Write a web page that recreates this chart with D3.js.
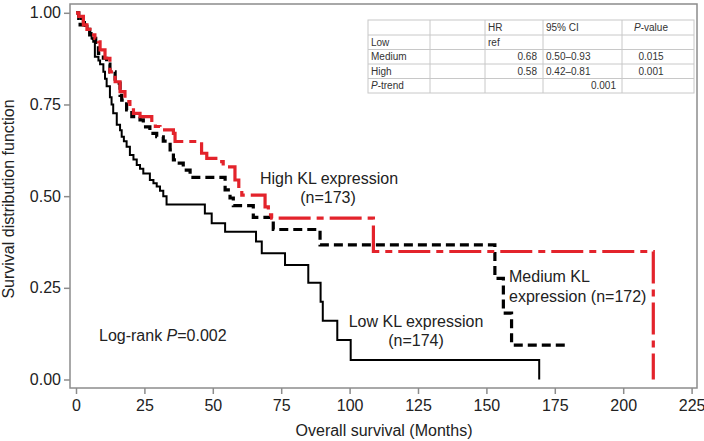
<!DOCTYPE html>
<html><head><meta charset="utf-8">
<script src="https://cdn.jsdelivr.net/npm/d3@7"></script>
<style>
html,body{margin:0;padding:0;background:#fff;}
svg text{font-family:"Liberation Sans",Arial,Helvetica,sans-serif;}
</style></head>
<body><svg id="chart" width="704" height="441"></svg>
<script>
// ---------- data ----------
const lowTimes = [0, 0.8, 1.6, 2.5, 3.3, 4.2, 5, 5.7, 6.3, 6.9, 8.2, 8.8, 10, 10.6, 11.2, 12.4, 13, 13.6, 14.9, 16.1, 16.7, 17.5, 18.5, 19.7, 21, 22.2, 23.4, 24.6, 27, 28.3, 29.5, 30.7, 31.9, 33.1, 47.1, 49.6, 54.5, 65.8, 67.9, 76.4, 84.9, 89.4, 90.2, 95.5, 100.4, 169.3];
const lowSurv  = [1.0, 0.99, 0.983, 0.975, 0.965, 0.955, 0.945, 0.93, 0.921, 0.88, 0.87, 0.86, 0.839, 0.82, 0.80, 0.77, 0.75, 0.726, 0.695, 0.68, 0.662, 0.65, 0.635, 0.612, 0.60, 0.585, 0.575, 0.562, 0.544, 0.535, 0.526, 0.515, 0.50, 0.477, 0.453, 0.426, 0.403, 0.376, 0.344, 0.312, 0.264, 0.212, 0.160, 0.108, 0.053, 0.0];

const medTimes = [0, 1, 1.5, 3.3, 5, 6.3, 7.2, 8.2, 10, 11.2, 12.4, 14.3, 16.1, 16.7, 18.5, 20.4, 23.4, 24.6, 27, 29.5, 31.9, 34.4, 35.6, 36.8, 39.2, 41.7, 54.5, 56.3, 57.5, 64.8, 72.1, 89.2, 153.1, 156.2, 159.2, 178.7];
const medSurv  = [1.0, 0.985, 0.967, 0.955, 0.94, 0.93, 0.91, 0.889, 0.876, 0.86, 0.839, 0.808, 0.775, 0.762, 0.735, 0.717, 0.708, 0.689, 0.671, 0.662, 0.650, 0.626, 0.599, 0.59, 0.571, 0.551, 0.517, 0.495, 0.474, 0.442, 0.409, 0.367, 0.276, 0.181, 0.094, 0.094];

const highTimes = [0, 1, 2.7, 4, 5.1, 6.9, 8.2, 8.8, 10.6, 12.4, 14.3, 16.1, 17.9, 19.7, 21, 23.4, 27.7, 29, 30.7, 35.6, 36.2, 45.9, 47.8, 52.6, 53.8, 58.1, 59.5, 60.6, 69.1, 70.3, 71.5, 108.7, 211];
const highSurv  = [1.0, 0.99, 0.967, 0.955, 0.94, 0.93, 0.921, 0.899, 0.876, 0.839, 0.812, 0.785, 0.758, 0.74, 0.726, 0.717, 0.699, 0.69, 0.681, 0.671, 0.649, 0.617, 0.603, 0.594, 0.58, 0.544, 0.52, 0.503, 0.471, 0.449, 0.44, 0.349, 0.0];

const xTicks = [0, 25, 50, 75, 100, 125, 150, 175, 200, 225];
const yTicks = [0, 0.25, 0.5, 0.75, 1.0];

const tableHeader = ["", "", "HR", "95% CI", "P-value"];
const tableRows = [
  ["Low", "", "ref", "", ""],
  ["Medium", "", "0.68", "0.50–0.93", "0.015"],
  ["High", "", "0.58", "0.42–0.81", "0.001"],
  ["P-trend", "", "", "0.001", ""]
];

// ---------- layout ----------
const svg = d3.select("#chart");
const x = d3.scaleLinear().domain([0, 225]).range([76, 691.6]);
const y = d3.scaleLinear().domain([0, 1]).range([379.5, 12.8]);
const frame = {l: 70, t: 4, r: 697, b: 388};
const axisCol = "#8c8c8c";

// frame
svg.append("rect").attr("x", frame.l).attr("y", frame.t)
  .attr("width", frame.r - frame.l).attr("height", frame.b - frame.t)
  .attr("fill", "none").attr("stroke", axisCol).attr("stroke-width", 1.5);

// axes
const gx = svg.append("g").attr("transform", `translate(0,${frame.b})`)
  .call(d3.axisBottom(x).tickValues(xTicks).tickSize(6).tickPadding(5.5).tickFormat(d3.format("d")));
const gy = svg.append("g").attr("transform", `translate(${frame.l},0)`)
  .call(d3.axisLeft(y).tickValues(yTicks).tickSize(6).tickPadding(3).tickFormat(d3.format(".2f")));
[gx, gy].forEach(g => {
  g.select(".domain").remove();
  g.selectAll(".tick line").attr("stroke", axisCol).attr("stroke-width", 1.5);
  g.selectAll(".tick text").attr("fill", "#222").style("font-size", "16px")
    .style("font-family", "'Liberation Sans',Arial,sans-serif");
});

// axis titles
svg.append("text").attr("x", 384).attr("y", 436).attr("text-anchor", "middle")
  .style("font-size", "16px").attr("fill", "#222").text("Overall survival (Months)");
svg.append("text").attr("transform", "translate(14,199) rotate(-90)").attr("text-anchor", "middle")
  .style("font-size", "16px").attr("fill", "#222").text("Survival distribution function");

// curves
const line = d3.line().x(d => x(d[0])).y(d => y(d[1])).curve(d3.curveStepAfter);
const series = [
  {t: lowTimes, s: lowSurv, color: "#000", w: 2, dash: null},
  {t: medTimes, s: medSurv, color: "#000", w: 3.2, dash: "9,5"},
  {t: highTimes, s: highSurv, color: "#e3232b", w: 3.2, dash: "32,6,7,6"}
];
series.forEach(sr => {
  const pts = sr.t.map((t, i) => [t, sr.s[i]]);
  const p = svg.append("path").attr("d", line(pts)).attr("fill", "none")
    .attr("stroke", sr.color).attr("stroke-width", sr.w);
  if (sr.dash) p.attr("stroke-dasharray", sr.dash);
});

// annotations
function label(xp, yp, anchor, parts) {
  const t = svg.append("text").attr("x", xp).attr("y", yp).attr("text-anchor", anchor)
    .style("font-size", "16px").attr("fill", "#222");
  parts.forEach(p => {
    const ts = t.append("tspan").text(p.text);
    if (p.italic) ts.style("font-style", "italic");
  });
}
label(329, 183.5, "middle", [{text: "High KL expression"}]);
label(328, 202.5, "middle", [{text: "(n=173)"}]);
label(416, 327, "middle", [{text: "Low KL expression"}]);
label(416, 346, "middle", [{text: "(n=174)"}]);
label(509, 282, "start", [{text: "Medium KL"}]);
label(509, 301.5, "start", [{text: "expression (n=172)"}]);
label(99, 340.5, "start", [{text: "Log-rank "}, {text: "P", italic: true}, {text: "=0.002"}]);

// table
const colEdges = [368, 430, 485, 543, 622, 694];
const rowEdges = [20, 35, 49.5, 64, 78.5, 93];
const tg = svg.append("g");
tg.append("rect").attr("x", colEdges[0]).attr("y", rowEdges[0])
  .attr("width", colEdges[5] - colEdges[0]).attr("height", rowEdges[5] - rowEdges[0])
  .attr("fill", "#fff").attr("stroke", "#c8c8c8").attr("stroke-width", 1);
colEdges.slice(1, -1).forEach(cx => tg.append("line").attr("x1", cx).attr("x2", cx)
  .attr("y1", rowEdges[0]).attr("y2", rowEdges[5]).attr("stroke", "#c8c8c8"));
rowEdges.slice(1, -1).forEach(ry => tg.append("line").attr("x1", colEdges[0]).attr("x2", colEdges[5])
  .attr("y1", ry).attr("y2", ry).attr("stroke", "#c8c8c8"));

const allRows = [tableHeader].concat(tableRows);
allRows.forEach((row, ri) => {
  const yb = (rowEdges[ri] + rowEdges[ri + 1]) / 2 + 3.6;
  row.forEach((cell, ci) => {
    if (!cell) return;
    let anchor = "start", xp = colEdges[ci] + 3;
    const isNum = /^[0-9]/.test(cell);
    if (ci === 4) { anchor = "middle"; xp = 651; }
    else if (ci === 2 && isNum) { anchor = "end"; xp = colEdges[3] - 6; }
    else if (ci === 3 && ri === 4) { anchor = "end"; xp = colEdges[4] - 6; }
    const t = tg.append("text").attr("x", xp).attr("y", yb).attr("text-anchor", anchor)
      .style("font-size", "10px").attr("fill", "#333");
    const m = cell.match(/^(P)(-.*)$/);
    if (m) {
      t.append("tspan").style("font-style", "italic").text(m[1]);
      t.append("tspan").text(m[2]);
    } else t.text(cell);
  });
});
</script></body></html>
